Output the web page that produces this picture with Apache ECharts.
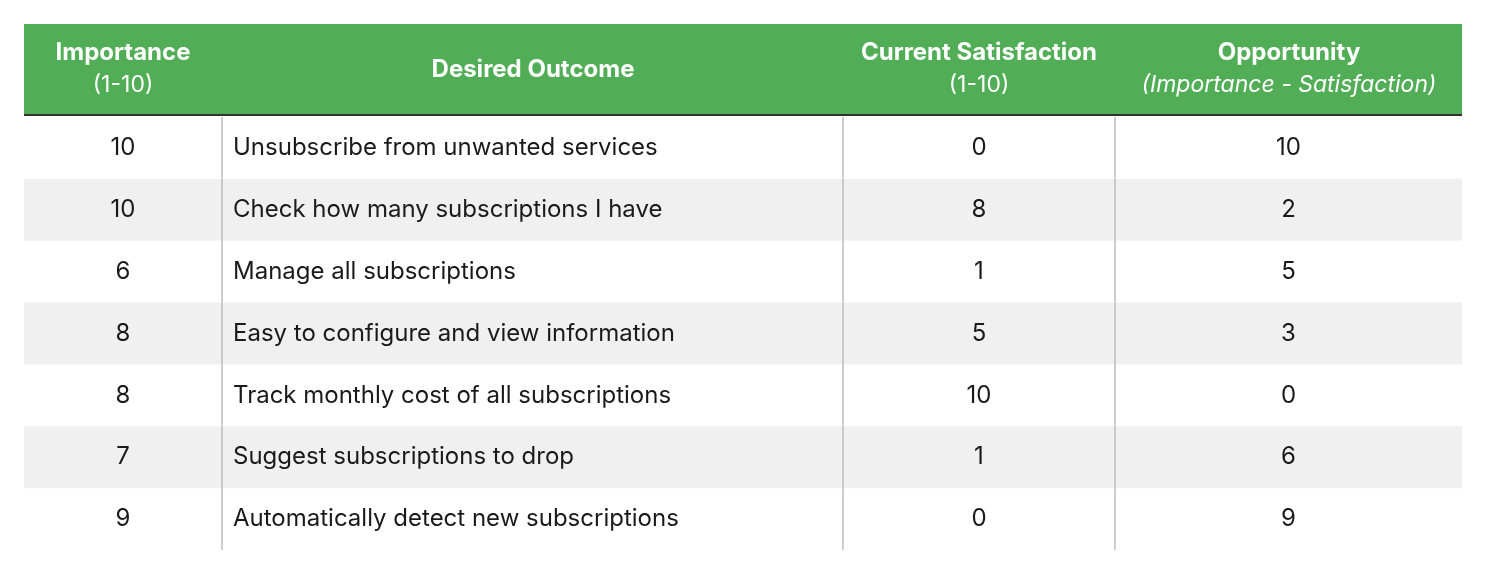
<!DOCTYPE html>
<html><head><meta charset="utf-8">
<script src="https://cdn.jsdelivr.net/npm/echarts@6/dist/echarts.min.js"></script>
<style>html,body{margin:0;background:#fff}#main{width:1486px;height:580px}</style>
</head><body><div id="main"></div>
<script>
// table data
var importance = [10, 10, 6, 8, 8, 7, 9];
var outcomes = [
  'Unsubscribe from unwanted services',
  'Check how many subscriptions I have',
  'Manage all subscriptions',
  'Easy to configure and view information',
  'Track monthly cost of all subscriptions',
  'Suggest subscriptions to drop',
  'Automatically detect new subscriptions'
];
var satisfaction = [0, 8, 1, 5, 10, 1, 0];
var opportunity = [10, 2, 5, 3, 0, 6, 9];

// column edges in x-axis units (table width 1438)
var colEdges = [0, 198, 819, 1091, 1438];
var FONT = 'Inter, "Open Sans", sans-serif';
var GREEN = '#52ae56';

var dom = document.getElementById('main');
var myChart = echarts.init(dom);

var rows = outcomes.map(function (o, i) {
  return [i, importance[i], o, satisfaction[i], opportunity[i]];
});

function renderRow(params, api) {
  var i = api.value(0);
  var tl = api.coord([colEdges[0], i]);
  var br = api.coord([colEdges[4], i]);
  var h = api.size([0, 1])[1];
  var top = tl[1] - h / 2, mid = tl[1];
  var xs = colEdges.map(function (e) { return api.coord([e, i])[0]; });
  var children = [];
  if (i % 2 === 1) {
    children.push({ type: 'rect', shape: { x: xs[0], y: top, width: xs[4] - xs[0], height: h },
      style: { fill: '#f0f0f0' } });
  }
  [1, 2, 3].forEach(function (k) {
    children.push({ type: 'line', shape: { x1: xs[k], y1: top, x2: xs[k], y2: top + h },
      style: { stroke: '#bdbdbd', lineWidth: 1.5 } });
  });
  var txt = { fill: '#1a1a1a', font: '24px ' + FONT, verticalAlign: 'middle' };
  function t(x, s, align) {
    return { type: 'text', x: x, y: mid, style: echarts.util.extend({ text: String(s), align: align }, txt) };
  }
  children.push(t((xs[0] + xs[1]) / 2, api.value(1), 'center'));
  children.push(t(xs[1] + 11, rows[i][2], 'left'));
  children.push(t((xs[2] + xs[3]) / 2, api.value(3), 'center'));
  children.push(t((xs[3] + xs[4]) / 2, api.value(4), 'center'));
  return { type: 'group', children: children };
}

function headerText(x, y, text, font) {
  return { type: 'text', x: x, y: y,
    style: { text: text, fill: '#fff', font: font, align: 'center', verticalAlign: 'middle' } };
}

option = {
  animation: false,
  grid: { left: 24, right: 24, top: 117, bottom: 30 },
  xAxis: { type: 'value', min: 0, max: 1438, show: false },
  yAxis: { type: 'category', data: outcomes.map(function (o, i) { return i; }), inverse: true, show: false },
  graphic: [
    { type: 'rect', shape: { x: 24, y: 24, width: 1438, height: 91 }, style: { fill: GREEN } },
    { type: 'rect', shape: { x: 24, y: 114, width: 1438, height: 2 }, style: { fill: '#333' } },
    headerText(123, 53, 'Importance', 'bold 24px ' + FONT),
    headerText(123, 85, '(1-10)', '23px ' + FONT),
    headerText(533, 70, 'Desired Outcome', 'bold 24px ' + FONT),
    headerText(979, 53, 'Current Satisfaction', 'bold 24px ' + FONT),
    headerText(979, 85, '(1-10)', '23px ' + FONT),
    headerText(1289, 53, 'Opportunity', 'bold 24px ' + FONT),
    headerText(1289, 85, '(Importance - Satisfaction)', 'italic 23px ' + FONT)
  ],
  series: [{
    type: 'custom',
    renderItem: renderRow,
    encode: { x: 1, y: 0 },
    data: rows.map(function (r) { return [r[0], r[1], 0, r[3], r[4]]; })
  }]
};

if (option && typeof option === 'object') {
  myChart.setOption(option, true);
}
</script></body></html>
